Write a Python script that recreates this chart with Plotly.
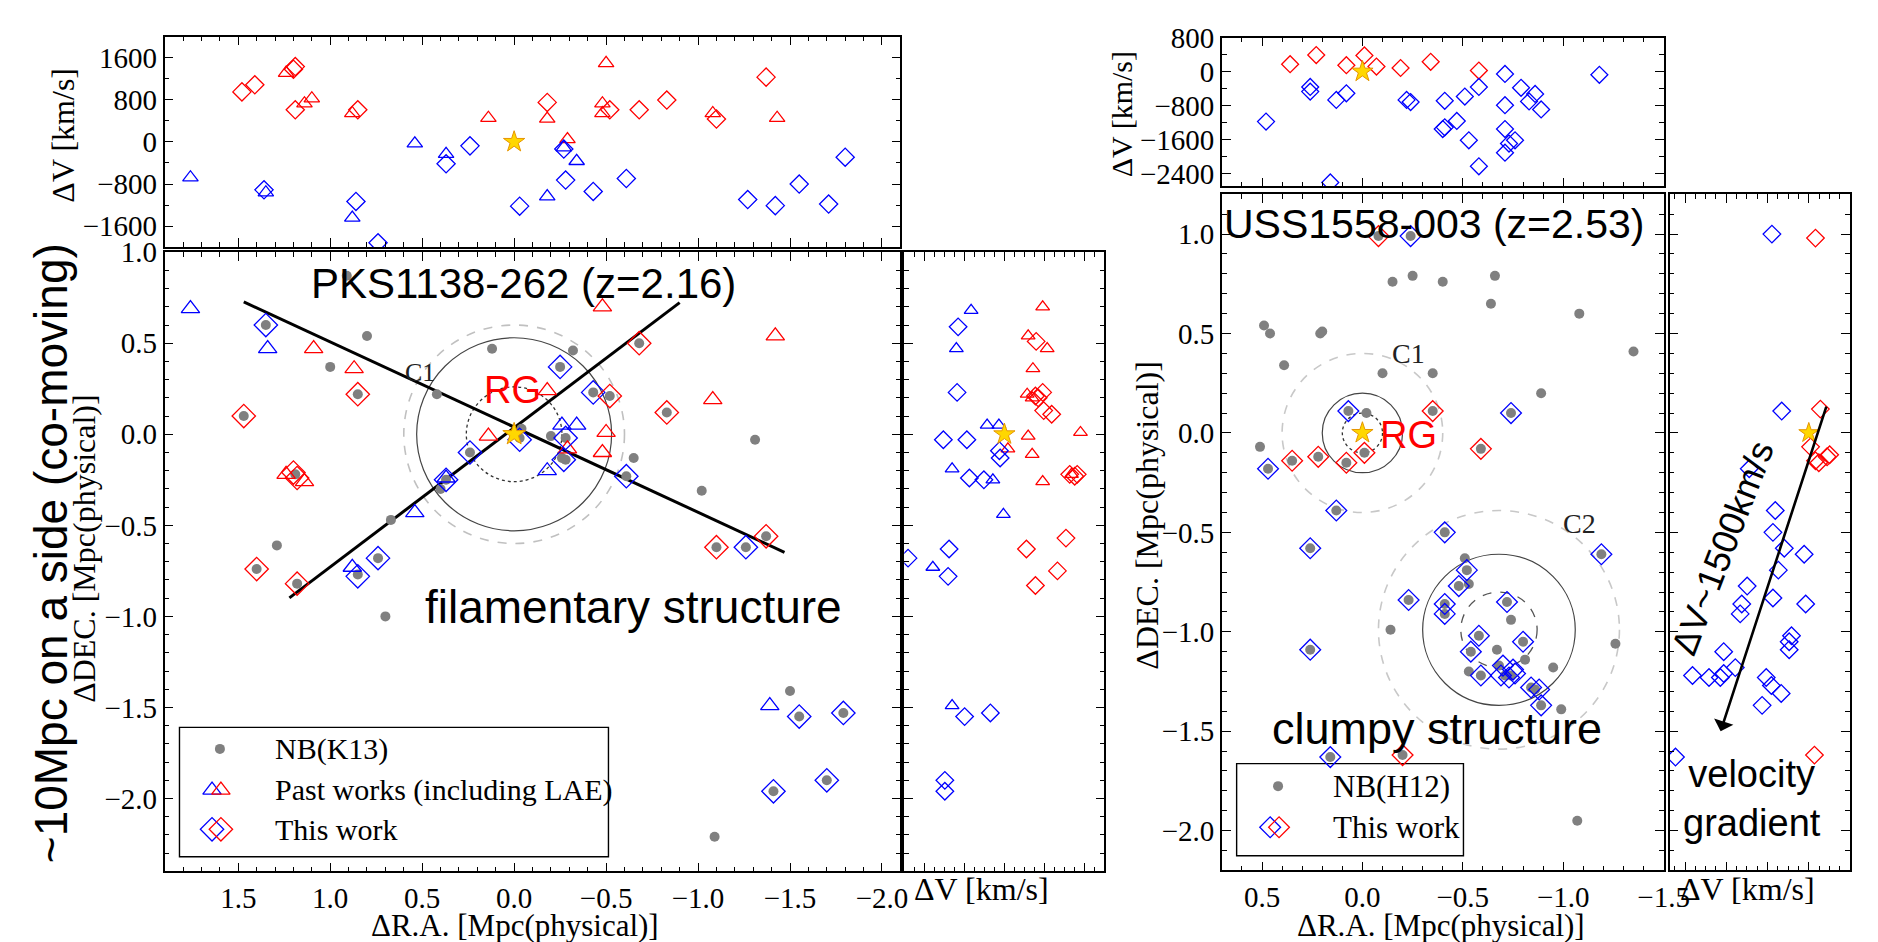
import plotly.graph_objects as go

W, H = 1878, 942

# ---------------- PKS1138-262 : main panel (dRA, dDEC) [Mpc] ----------------
pks_nb_ra = [0.91, 1.35, 0.80, 1.00, 0.12, -0.32, -0.25, 0.42, 0.85, 1.47, -0.43, -0.52, -0.83, -1.31,
             -0.04, -0.03, -0.20, -0.28, 0.24, -0.26, -0.28, -0.65, 1.19, 0.37, 0.40, -0.61, -1.02, 0.67,
             1.29, 1.40, 1.18, 0.85, 0.74, -1.10, -1.26, -1.37, 0.70, -1.50, -1.55, -1.79, -1.41, -1.70,
             -1.09, -0.68]
pks_nb_dec = [0.87, 0.60, 0.54, 0.37, 0.47, 0.46, 0.37, 0.22, 0.22, 0.10, 0.23, 0.21, 0.12, -0.03,
              0.03, -0.02, -0.01, -0.02, -0.10, -0.13, -0.14, -0.13, -0.22, -0.25, -0.30, -0.23, -0.31, -0.47,
              -0.61, -0.74, -0.82, -0.77, -0.68, -0.62, -0.62, -0.56, -1.00, -1.41, -1.55, -1.53, -1.96, -1.90,
              -2.21, 0.50]
pks_past_blue_ra = [1.76, 1.34, 0.54, -0.18, -0.26, -0.34, 0.37, 0.88, -1.39]
pks_past_blue_dec = [0.69, 0.47, -0.43, -0.20, 0.05, 0.05, -0.24, -0.73, -1.49]
pks_past_red_ra = [-0.48, -1.42, 1.09, 0.87, -0.18, -1.08, 0.14, -0.50, -0.29, -0.48, 1.24, 1.14]
pks_past_red_dec = [0.70, 0.54, 0.47, 0.36, 0.24, 0.19, -0.01, 0.01, -0.08, -0.10, -0.22, -0.26]
pks_this_red_ra = [-0.68, -0.52, -0.83, 0.85, 1.47, 1.20, 1.18, 1.40, 1.18, -1.10, -1.37]
pks_this_red_dec = [0.50, 0.21, 0.12, 0.22, 0.10, -0.21, -0.24, -0.74, -0.82, -0.62, -0.56]
pks_this_blue_ra = [1.35, -0.25, -0.43, -0.03, -0.28, 0.24, -0.27, 0.37, -0.61, 0.85, 0.74, -1.26,
                    -1.55, -1.79, -1.41, -1.70]
pks_this_blue_dec = [0.60, 0.37, 0.23, -0.03, -0.02, -0.10, -0.14, -0.25, -0.23, -0.78, -0.68, -0.62,
                     -1.55, -1.53, -1.96, -1.90]
pks_fil_a_ra = [1.47, -1.47]
pks_fil_a_dec = [0.727, -0.648]
pks_fil_b_ra = [1.222, -0.90]
pks_fil_b_dec = [-0.898, 0.723]
pks_c1_center = [0.0, 0.0]
pks_c1_radii = [0.26, 0.53, 0.60]

# ---------------- PKS1138-262 : top panel (dRA, dV) [km/s] ----------------
pks_top_red_this_ra = [1.48, 1.41, 1.19, 1.20, 1.19, 0.85, -0.18, -0.52, -0.68, -0.83, -1.10, -1.37]
pks_top_red_this_dv = [950, 1085, 1430, 1380, 610, 610, 750, 610, 610, 795, 435, 1230]
pks_top_red_past_ra = [1.24, 1.14, 1.10, 0.88, 0.14, -0.18, -0.29, -0.50, -0.48, -0.48, -1.08, -1.43]
pks_top_red_past_dv = [1310, 730, 825, 545, 455, 440, 50, 1495, 730, 545, 545, 455]
pks_top_blue_past_ra = [1.76, 1.35, 0.88, 0.54, 0.37, -0.18, -0.27, -0.34]
pks_top_blue_past_dv = [-675, -960, -1440, -30, -230, -1035, -105, -365]
pks_top_blue_this_ra = [1.36, 0.86, 0.74, 0.37, 0.24, -0.03, -0.27, -0.28, -0.43, -0.61, -1.27, -1.42,
                        -1.55, -1.71, -1.80]
pks_top_blue_this_dv = [-910, -1130, -1915, -415, -75, -1220, -135, -725, -940, -695, -1095, -1210,
                        -800, -1180, -290]

# ---------------- PKS1138-262 : side panel (dV, dDEC) ----------------
pks_side_blue_past_dv = [-665, -960, -345, -110, -1045, -230, -20, -1430, -1045]
pks_side_blue_past_dec = [0.68, 0.47, 0.05, 0.05, -0.19, -0.25, -0.44, -0.73, -1.49]
pks_side_blue_this_dv = [-925, -945, -1220, -750, -100, -85, -700, -410, -1105, -1925, -1125, -795,
                         -280, -1190, -1190]
pks_side_blue_this_dec = [0.59, 0.23, -0.03, -0.03, -0.09, -0.13, -0.24, -0.25, -0.63, -0.68, -0.78,
                          -1.55, -1.53, -1.90, -1.96]
pks_side_red_past_dv = [765, 475, 855, 570, 455, 555, 1520, 475, 555, 765, 70, 1340]
pks_side_red_past_dec = [0.70, 0.54, 0.47, 0.36, 0.22, 0.20, 0.01, -0.01, -0.11, -0.26, -0.08, -0.22]
pks_side_red_this_dv = [635, 765, 620, 675, 785, 945, 1305, 1405, 1455, 1230, 440, 1060, 620]
pks_side_red_this_dec = [0.51, 0.23, 0.21, 0.20, 0.13, 0.11, -0.22, -0.23, -0.22, -0.57, -0.63, -0.75,
                         -0.83]

# ---------------- USS1558-003 : main panel ----------------
uss_nb_ra = [-0.08, -0.24, -0.15, -0.25, -0.40, -0.66, -0.64, -1.08, -1.35, 0.49, 0.46, 0.21, 0.20,
             0.39, -0.10, -0.35, -0.89, 0.07, -0.02, -0.35, -0.74, 0.51, 0.47, 0.35, 0.22, 0.08, -0.01,
             -0.59, 0.13, -0.41, 0.26, -1.19, -0.51, -0.52, -0.53, -0.48, -0.23, -0.41, -0.41, -0.72,
             -0.74, -0.14, 0.26, -0.58, -0.80, -0.54, -0.67, -0.81, -0.68, -0.95, -1.26, -0.53, -0.59,
             -0.71, -0.74, -0.84, -0.86, -0.89, -0.99, 0.16, -0.20, -1.07]
uss_nb_dec = [0.99, 0.99, 0.76, 0.79, 0.76, 0.79, 0.65, 0.60, 0.41, 0.54, 0.50, 0.50, 0.51,
              0.34, 0.30, 0.30, 0.20, 0.11, 0.10, 0.11, 0.10, -0.07, -0.18, -0.14, -0.12, -0.15, -0.10,
              -0.08, -0.39, -0.50, -0.58, -0.61, -0.63, -0.69, -0.76, -0.77, -0.84, -0.86, -0.91, -0.85,
              -0.94, -0.99, -1.09, -1.02, -1.05, -1.10, -1.09, -1.14, -1.17, -1.18, -1.06, -1.20, -1.22,
              -1.22, -1.22, -1.28, -1.29, -1.37, -1.39, -1.63, -1.62, -1.95]
uss_this_blue_ra = [-0.24, 0.07, -0.74, 0.47, 0.13, -0.41, 0.26, -1.19, -0.52, -0.48, -0.23, -0.41,
                    -0.41, -0.72, 0.26, -0.58, -0.80, -0.54, -0.59, -0.70, -0.69, -0.73, -0.76, -0.75,
                    -0.84, -0.88, -0.89, 0.16]
uss_this_blue_dec = [0.99, 0.11, 0.10, -0.18, -0.39, -0.50, -0.58, -0.61, -0.69, -0.77, -0.84, -0.86,
                     -0.91, -0.85, -1.09, -1.02, -1.05, -1.10, -1.22, -1.17, -1.22, -1.23, -1.21, -1.19,
                     -1.28, -1.29, -1.37, -1.63]
uss_this_red_ra = [-0.08, -0.35, 0.35, 0.22, 0.08, -0.01, -0.59, -0.20]
uss_this_red_dec = [0.99, 0.11, -0.14, -0.12, -0.15, -0.10, -0.08, -1.62]
uss_c1_center = [0.0, 0.0]
uss_c1_radii = [0.10, 0.20, 0.40]
uss_c2_center = [-0.68, -0.99]
uss_c2_radii = [0.19, 0.38, 0.60]

# ---------------- USS1558-003 : top panel ----------------
uss_top_red_ra = [0.36, 0.23, 0.08, -0.01, -0.07, -0.19, -0.34, -0.58]
uss_top_red_dv = [175, 390, 150, 380, 120, 85, 230, 25]
uss_top_blue_ra = [0.48, 0.26, 0.26, 0.13, 0.08, 0.16, -0.22, -0.24, -0.41, -0.41, -0.40, -0.47, -0.51,
                   -0.53, -0.58, -0.58, -0.71, -0.71, -0.71, -0.71, -0.73, -0.76, -0.79, -0.83, -0.86,
                   -0.89, -1.18]
uss_top_blue_dv = [-1175, -360, -470, -665, -510, -2605, -665, -715, -685, -1310, -1350, -1160, -585,
                   -1615, -360, -2225, -55, -790, -1350, -1905, -1690, -1615, -380, -700, -525, -890, -75]

# ---------------- USS1558-003 : side panel ----------------
uss_side_red_dv = [130, 225, 35, 130, 195, 355, 405, 110]
uss_side_red_dec = [0.98, 0.12, -0.07, -0.14, -0.15, -0.12, -0.11, -1.62]
uss_side_blue_dv = [-715, -525, -1155, -650, -695, -475, -90, -590, -1195, -695, -60, -1300, -1330, -335,
                    -380, -380, -1650, -1425, -2255, -1935, -1715, -1650, -825, -725, -535, -905, -2585]
uss_side_blue_dec = [1.00, 0.11, -0.18, -0.39, -0.50, -0.58, -0.61, -0.69, -0.77, -0.83, -0.86, -0.86,
                     -0.91, -1.02, -1.05, -1.09, -1.10, -1.18, -1.22, -1.23, -1.23, -1.21, -1.23, -1.27,
                     -1.31, -1.37, -1.63]

rg_pos = [0.0, 0.0]
gradient_arrow_dv = [350, -1710]
gradient_arrow_dec = [0.14, -1.50]

# ---------------- styles ----------------
BLUE, RED, GREY = "#0000ff", "#ff0000", "#808080"
STAR_FILL, STAR_LINE = "#ffd700", "#e69500"
SERIF, SANS = "Liberation Serif", "Liberation Sans"
TICK_SIZE, TITLE_SIZE = 29, 32

fig = go.Figure()


def pts(xs, ys, ax, symbol, color, size, lw=1.3):
    fig.add_trace(go.Scatter(
        x=xs, y=ys, mode="markers", xaxis="x" + ax, yaxis="y" + ax,
        marker=dict(symbol=symbol, color=color, size=size,
                    line=dict(width=lw if "open" in symbol else 0, color=color)),
        showlegend=False, hoverinfo="skip", cliponaxis=True))


def star(ax, size):
    fig.add_trace(go.Scatter(
        x=[rg_pos[0]], y=[rg_pos[1]], mode="markers", xaxis="x" + ax, yaxis="y" + ax,
        marker=dict(symbol="star", color=STAR_FILL, size=size, line=dict(width=1, color=STAR_LINE)),
        showlegend=False, hoverinfo="skip"))


# left main ("" -> x / y)
fig.add_trace(go.Scatter(x=pks_fil_a_ra, y=pks_fil_a_dec, mode="lines", line=dict(color="black", width=3),
                         showlegend=False, hoverinfo="skip"))
fig.add_trace(go.Scatter(x=pks_fil_b_ra, y=pks_fil_b_dec, mode="lines", line=dict(color="black", width=3),
                         showlegend=False, hoverinfo="skip"))
pts(pks_nb_ra, pks_nb_dec, "", "circle", GREY, 10)
pts(pks_past_blue_ra, pks_past_blue_dec, "", "triangle-up-open", BLUE, 16)
pts(pks_past_red_ra, pks_past_red_dec, "", "triangle-up-open", RED, 16)
pts(pks_this_blue_ra, pks_this_blue_dec, "", "diamond-open", BLUE, 18)
pts(pks_this_red_ra, pks_this_red_dec, "", "diamond-open", RED, 18)
star("", 17)

# left top (2)
pts(pks_top_red_past_ra, pks_top_red_past_dv, "2", "triangle-up-open", RED, 13.5)
pts(pks_top_blue_past_ra, pks_top_blue_past_dv, "2", "triangle-up-open", BLUE, 13.5)
pts(pks_top_red_this_ra, pks_top_red_this_dv, "2", "diamond-open", RED, 14)
pts(pks_top_blue_this_ra, pks_top_blue_this_dv, "2", "diamond-open", BLUE, 14)
star("2", 16)

# left side (3)
pts(pks_side_red_past_dv, pks_side_red_past_dec, "3", "triangle-up-open", RED, 12)
pts(pks_side_blue_past_dv, pks_side_blue_past_dec, "3", "triangle-up-open", BLUE, 12)
pts(pks_side_red_this_dv, pks_side_red_this_dec, "3", "diamond-open", RED, 13.5)
pts(pks_side_blue_this_dv, pks_side_blue_this_dec, "3", "diamond-open", BLUE, 13.5)
star("3", 16)

# right main (4)
pts(uss_nb_ra, uss_nb_dec, "4", "circle", GREY, 10)
pts(uss_this_blue_ra, uss_this_blue_dec, "4", "diamond-open", BLUE, 16)
pts(uss_this_red_ra, uss_this_red_dec, "4", "diamond-open", RED, 16)
star("4", 16)

# right top (5)
pts(uss_top_red_ra, uss_top_red_dv, "5", "diamond-open", RED, 13)
pts(uss_top_blue_ra, uss_top_blue_dv, "5", "diamond-open", BLUE, 13)
star("5", 16)

# right side (6)
pts(uss_side_red_dv, uss_side_red_dec, "6", "diamond-open", RED, 13.5)
pts(uss_side_blue_dv, uss_side_blue_dec, "6", "diamond-open", BLUE, 13.5)
star("6", 15)

# ---------------- legend symbols (pixel overlay axis 7) ----------------
LEG_L = dict(box=(182, 726, 617, 858), rows=[748, 790, 830], sym_x=(215, 224), text_x=277)
LEG_R = dict(box=(1254, 763, 1484, 857), rows=[786, 828], sym_x=(1288, 1297), text_x=1350)

pts([LEG_L["sym_x"][1] - 1], [LEG_L["rows"][0]], "7", "circle", GREY, 10)
pts([LEG_L["sym_x"][0]], [LEG_L["rows"][1]], "7", "triangle-up-open", BLUE, 16)
pts([LEG_L["sym_x"][1]], [LEG_L["rows"][1]], "7", "triangle-up-open", RED, 16)
pts([LEG_L["sym_x"][0]], [LEG_L["rows"][2]], "7", "diamond-open", BLUE, 18)
pts([LEG_L["sym_x"][1]], [LEG_L["rows"][2]], "7", "diamond-open", RED, 18)
pts([LEG_R["sym_x"][1] - 1], [LEG_R["rows"][0]], "7", "circle", GREY, 10)
pts([LEG_R["sym_x"][0]], [LEG_R["rows"][1]], "7", "diamond-open", BLUE, 16)
pts([LEG_R["sym_x"][1]], [LEG_R["rows"][1]], "7", "diamond-open", RED, 16)


def xd(a, b):
    return [a / W, b / W]


def yd(top, bottom):
    return [1 - bottom / H, 1 - top / H]


def axis(rng, dtick, minor, labels, dom, anchor, fmt=None):
    d = dict(range=rng, dtick=dtick, tick0=0, showticklabels=labels, domain=dom, anchor=anchor,
             ticks="inside", ticklen=9, tickwidth=1.2, tickcolor="black", mirror="allticks",
             showline=True, linecolor="black", linewidth=1.6, showgrid=False, zeroline=False,
             minor=dict(ticks="inside", ticklen=5, dtick=minor, tick0=0, tickcolor="black", tickwidth=1,
                        showgrid=False),
             tickfont=dict(family=SERIF, size=TICK_SIZE, color="black"))
    if fmt:
        d["tickformat"] = fmt
    return d


L_X = (167, 913)
L_TOP = (21, 236)
L_MAIN = (241, 873)
L_SIDE_X = (917, 1120)
R_X = (1239, 1687)
R_TOP = (22, 174)
R_MAIN = (182, 872)
R_SIDE_X = (1693, 1876)

layout = dict(
    width=W, height=H, margin=dict(l=0, r=0, t=0, b=0), paper_bgcolor="white",
    plot_bgcolor="rgba(0,0,0,0)", showlegend=False,
    xaxis=axis([1.9, -2.1], 0.5, 0.1, True, xd(*L_X), "y", ".1f"),
    yaxis=axis([-2.4, 1.0001], 0.5, 0.1, True, yd(*L_MAIN), "x", ".1f"),
    xaxis2=axis([1.9, -2.1], 0.5, 0.1, False, xd(*L_X), "y2"),
    yaxis2=axis([-2000, 2000], 800, 400, True, yd(*L_TOP), "x2", "d"),
    xaxis3=axis([-2000, 2000], 800, 200, False, xd(*L_SIDE_X), "y3"),
    yaxis3=axis([-2.4, 1.0001], 0.5, 0.1, False, yd(*L_MAIN), "x3"),
    xaxis4=axis([0.7, -1.5001], 0.5, 0.1, True, xd(*R_X), "y4", ".1f"),
    yaxis4=axis([-2.2, 1.2], 0.5, 0.1, True, yd(*R_MAIN), "x4", ".1f"),
    xaxis5=axis([0.7, -1.5001], 0.5, 0.1, False, xd(*R_X), "y5"),
    yaxis5=axis([-2700, 800.5], 800, 400, True, yd(*R_TOP), "x5", "d"),
    xaxis6=axis([-2700, 800], 800, 200, False, xd(*R_SIDE_X), "y6"),
    yaxis6=axis([-2.2, 1.2], 0.5, 0.1, False, yd(*R_MAIN), "x6"),
    xaxis7=dict(range=[0, W], domain=[0, 1], visible=False, anchor="y7", showgrid=False, zeroline=False),
    yaxis7=dict(range=[H, 0], domain=[0, 1], visible=False, anchor="x7", showgrid=False, zeroline=False),
)
fig.update_layout(**layout)

shapes = []


def circles(center, radii, styles, ax):
    for r, (col, dash, w) in zip(radii, styles):
        shapes.append(dict(type="circle", xref="x" + ax, yref="y" + ax, layer="below",
                           x0=center[0] - r, x1=center[0] + r, y0=center[1] - r, y1=center[1] + r,
                           line=dict(color=col, dash=dash, width=w)))


circles(pks_c1_center, pks_c1_radii, [("#333333", "dot", 1.3), ("#444444", "solid", 1.2),
                                      ("#c0c0c0", "dash", 1.6)], "")
circles(uss_c1_center, uss_c1_radii, [("#333333", "dot", 1.3), ("#444444", "solid", 1.2),
                                      ("#c8c8c8", "dash", 1.6)], "4")
circles(uss_c2_center, uss_c2_radii, [("#555555", "dash", 1.3), ("#444444", "solid", 1.2),
                                      ("#c8c8c8", "dash", 1.6)], "4")
for leg in (LEG_L, LEG_R):
    x0, y0, x1, y1 = leg["box"]
    shapes.append(dict(type="rect", xref="paper", yref="paper", layer="below",
                       x0=x0 / W, x1=x1 / W, y0=1 - y1 / H, y1=1 - y0 / H,
                       line=dict(color="black", width=1.4), fillcolor="white"))
fig.update_layout(shapes=shapes)

ann = []


def txt(text, x, y, ax, size, family=SANS, color="black", angle=0, xanchor="center"):
    ann.append(dict(text=text, x=x, y=y, xref="x" + ax, yref="y" + ax, showarrow=False,
                    font=dict(family=family, size=size, color=color), textangle=angle,
                    xanchor=xanchor, yanchor="middle"))


def ptxt(text, px, py, size, family=SERIF, angle=0, xanchor="center", yanchor="middle"):
    ann.append(dict(text=text, x=px / W, y=1 - py / H, xref="paper", yref="paper", showarrow=False,
                    font=dict(family=family, size=size, color="black"), textangle=angle,
                    xanchor=xanchor, yanchor=yanchor))


# panel texts
txt("PKS1138-262 (z=2.16)", -0.05, 0.827, "", 42)
txt("filamentary structure", -0.65, -0.95, "", 46)
txt("C1", 0.51, 0.34, "", 26, SERIF, "#222222")
txt("RG", 0.01, 0.245, "", 38, SANS, RED)
txt("USS1558-003 (z=2.53)", -0.36, 1.05, "4", 41)
txt("clumpy structure", -0.37, -1.486, "4", 45)
txt("C1", -0.23, 0.40, "4", 28, SERIF, "#222222")
txt("C2", -1.08, -0.455, "4", 28, SERIF, "#222222")
txt("RG", -0.08, -0.01, "4", 38, SANS, RED, xanchor="left")
txt("ΔV~1500km/s", -1681, -0.58, "6", 36, angle=-69)
txt("velocity<br>gradient", -1100, -1.84, "6", 38)

# arrow
ann.append(dict(x=gradient_arrow_dv[1], y=gradient_arrow_dec[1], ax=gradient_arrow_dv[0],
                ay=gradient_arrow_dec[0], xref="x6", yref="y6", axref="x6", ayref="y6", text="",
                showarrow=True, arrowhead=1, arrowsize=1.3, arrowwidth=2.6, arrowcolor="black"))

# axis titles & side text
ptxt("ΔV [km/s]", 63, 122, TITLE_SIZE, angle=-90)
ptxt("ΔDEC. [Mpc(physical)]", 85, 543, TITLE_SIZE, angle=-90)
ptxt("ΔR.A. [Mpc(physical)]", 522, 928, 31)
ptxt("ΔV [km/s]", 995, 891, TITLE_SIZE)
ptxt("ΔV [km/s]", 1138, 100, 30, angle=-90)
ptxt("ΔDEC. [Mpc(physical)]", 1163, 509, TITLE_SIZE, angle=-90)
ptxt("ΔR.A. [Mpc(physical)]", 1461, 928, 31)
ptxt("ΔV [km/s]", 1772, 891, TITLE_SIZE)
ptxt("~10Mpc on a side (co-moving)", 52, 548, 46, family=SANS, angle=-90)

# legend texts
for t, row in zip(["NB(K13)", "Past works (including LAE)", "This work"], LEG_L["rows"]):
    ptxt(t, LEG_L["text_x"], row, 30, xanchor="left")
for t, row in zip(["NB(H12)", "This work"], LEG_R["rows"]):
    ptxt(t, LEG_R["text_x"], row, 31, xanchor="left")

fig.update_layout(annotations=ann)
fig.write_html("out.html")
